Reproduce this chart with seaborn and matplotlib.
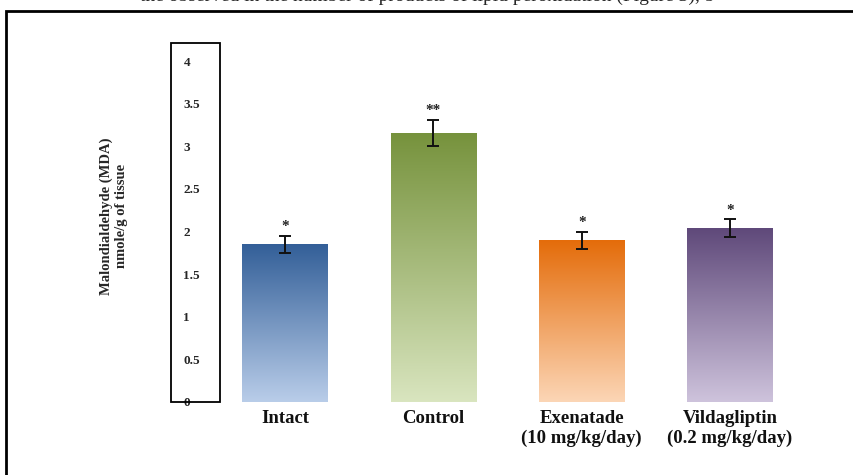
import numpy as np
import pandas as pd
import matplotlib
matplotlib.use("Agg")
import matplotlib.pyplot as plt
from matplotlib.colors import LinearSegmentedColormap
from matplotlib.patches import Rectangle
import seaborn as sns

# values
groups = ["Intact", "Control", "Exenatade\n(10 mg/kg/day)", "Vildagliptin\n(0.2 mg/kg/day)"]
mda = [1.85, 3.16, 1.90, 2.04]
sem = [0.10, 0.15, 0.10, 0.105]
stars = ["*", "**", "*", "*"]
yticks = [0, 0.5, 1, 1.5, 2, 2.5, 3, 3.5, 4]
ytick_labels = ["0", "0.5", "1", "1.5", "2", "2.5", "3", "3.5", "4"]
top_colors = ["#335F98", "#76923C", "#E46C0A", "#5F497A"]
bottom_colors = ["#B9CDE9", "#D9E5BF", "#FCD6B6", "#CEC3DC"]

sns.set_style("white")
plt.rcParams["font.family"] = ["Liberation Serif", "DejaVu Serif"]
plt.rcParams["font.weight"] = "bold"

df = pd.DataFrame({"group": groups, "mda": mda})

fig = plt.figure(figsize=(8.54, 4.75), dpi=100)
ax = fig.add_axes([171 / 854, 73 / 475, 683 / 854, 357 / 475])

sns.barplot(data=df, x="group", y="mda", hue="group", palette=top_colors,
            width=0.575, errorbar=None, legend=False, ax=ax)

# vertical gradient inside each bar (dark on top, light at bottom)
grad = np.linspace(0, 1, 256).reshape(-1, 1)
for patch, c_top, c_bot in zip(ax.patches, top_colors, bottom_colors):
    x0, y0 = patch.get_x(), patch.get_y()
    w, h = patch.get_width(), patch.get_height()
    cmap = LinearSegmentedColormap.from_list("g", [c_bot, c_top])
    im = ax.imshow(grad, extent=[x0, x0 + w, y0, y0 + h], origin="lower",
                   aspect="auto", cmap=cmap, zorder=2)
    im.set_clip_path(patch)
    patch.set_alpha(0)

ax.errorbar(range(len(mda)), mda, yerr=sem, fmt="none", ecolor="#111111",
            elinewidth=1.4, capsize=4, capthick=1.4, zorder=3)
for i, (v, e, s) in enumerate(zip(mda, sem, stars)):
    ax.text(i, v + e + 0.03, s, ha="center", va="bottom", fontsize=11,
            fontweight="bold", color="#222222")

ax.set_xlim(-0.769, 3.836)
ax.set_ylim(0, 4.19)
for sp in ax.spines.values():
    sp.set_visible(False)

ax.set_yticks(yticks)
ax.set_yticklabels(ytick_labels, fontsize=9.5, fontweight="bold", ha="left")
ax.tick_params(axis="y", length=0, pad=-9)
ax.set_xticks(range(len(groups)))
ax.set_xticklabels(groups, fontsize=13.5, fontweight="bold", linespacing=1.2,
                   color="#111111")
ax.tick_params(axis="x", length=0, pad=6)
ax.set_xlabel("")
ax.set_ylabel("")

# narrow box around the y tick labels
ax.add_patch(Rectangle((0, 0), 49 / 683, 1.005, transform=ax.transAxes,
                       fill=False, edgecolor="black", lw=1.3, clip_on=False))

fig.text(114 / 854, 1 - 216 / 475, "Malondialdehyde (MDA)\nnmole/g of tissue",
         rotation=90, ha="center", va="center", fontsize=10.5,
         fontweight="bold", linespacing=1.2)

# outer frame and the clipped line of page text above it
fig.patches.append(Rectangle((6 / 854, -0.1), 1.2, 1.1 - 11 / 475,
                             transform=fig.transFigure, fill=False,
                             edgecolor="black", lw=2))
fig.text(0.5, 1 - 1 / 475,
         "the observed in the number of products of lipid peroxidation (Figure 3), b",
         ha="center", va="baseline", fontsize=14, fontweight="normal")

fig.savefig("out.png", dpi=100)
